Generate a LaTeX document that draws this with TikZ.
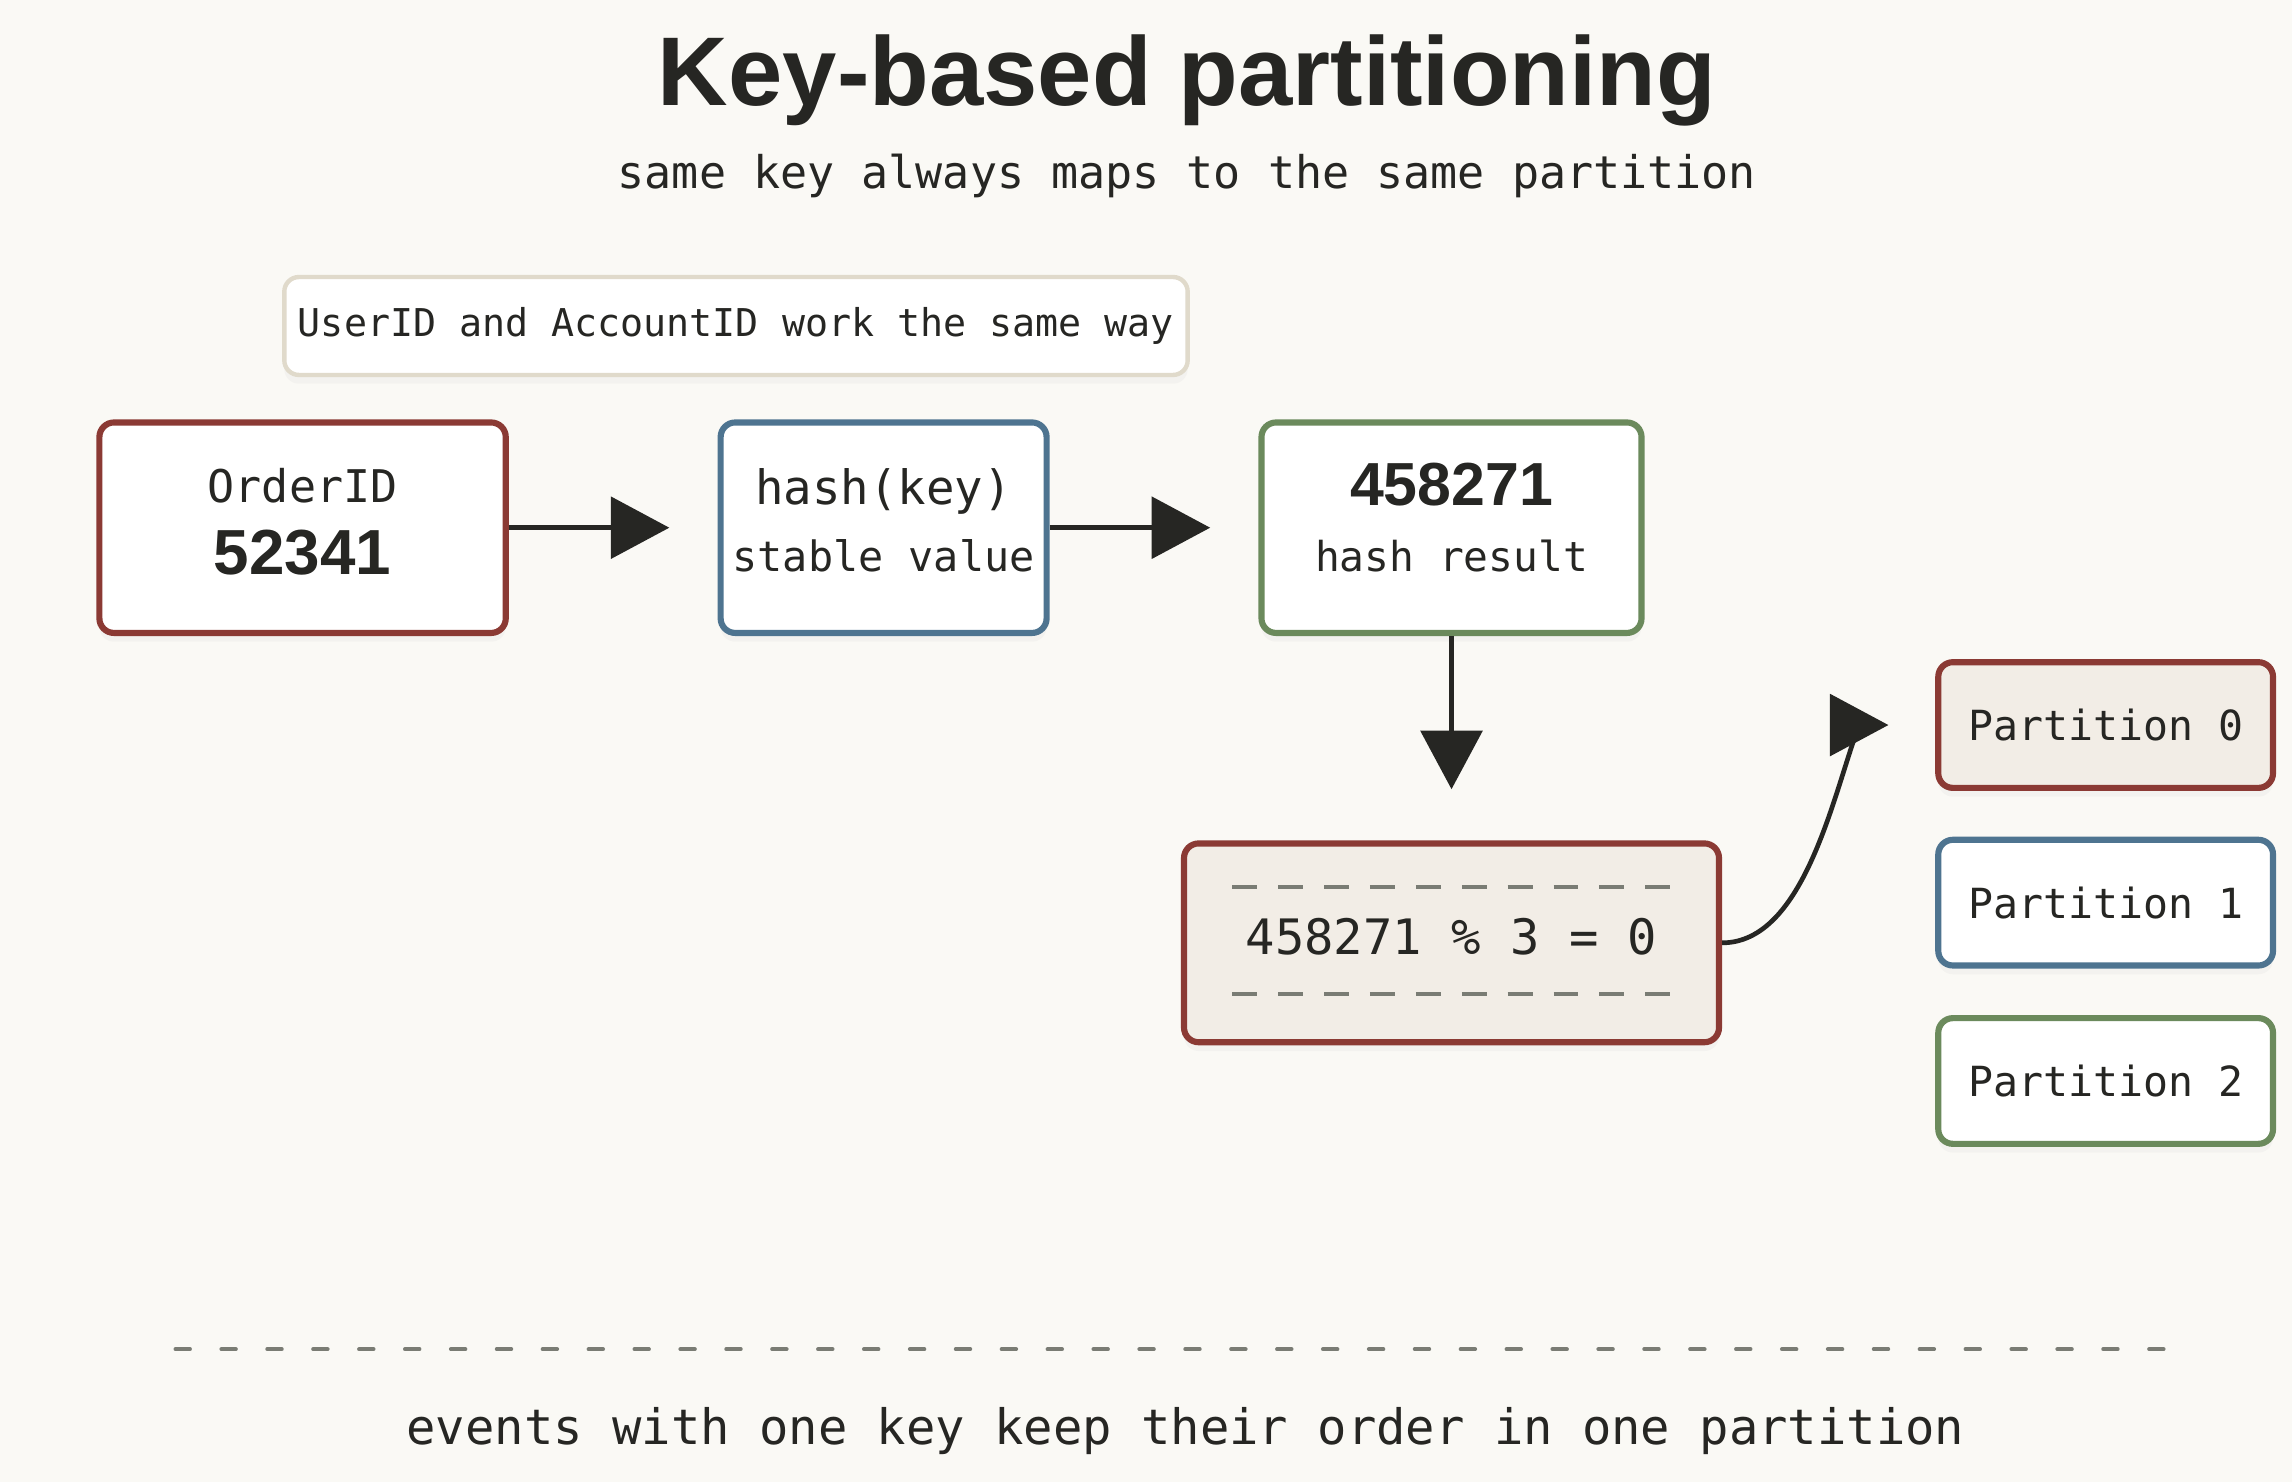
\documentclass[tikz,border=0pt]{standalone}
\usepackage{fontspec}
\setmainfont{Liberation Sans}
\newfontfamily\monofont{DejaVu Sans Mono}
\usetikzlibrary{arrows.meta,shadows}
\definecolor{paper}{HTML}{FAF9F5}
\definecolor{ink}{HTML}{262623}
\definecolor{keyred}{HTML}{8B3A34}
\definecolor{hashblue}{HTML}{4E7490}
\definecolor{resgreen}{HTML}{6B8A5C}
\definecolor{beige}{HTML}{F2EDE6}
\definecolor{noteline}{HTML}{E0DACB}
\definecolor{dashgray}{HTML}{7A7C74}
\begin{document}
\begin{tikzpicture}[x=0.5pt,y=-0.5pt,line join=round,>={Triangle[length=20pt,width=21pt]}]
	\tikzset{
		box/.style={draw,line width=2.1pt,rounded corners=5pt,fill=white,inner sep=0pt,
			drop shadow={shadow xshift=0pt,shadow yshift=-3pt,opacity=0.05}},
		txt/.style={anchor=base,inner sep=0pt,text=ink},
		arr/.style={->,line width=1.6pt,draw=ink},
		part/.style={box,minimum width=114.5pt,minimum height=43pt,font=\monofont\fontsize{14.2}{16}\selectfont,text=ink}
	}
	\fill[paper] (0,0) rectangle (1568,1014);
	\node[txt,font=\bfseries\fontsize{33.4}{40}\selectfont] (title) at (812,72) {Key-based partitioning};
	\node[txt,font=\monofont\fontsize{15.4}{18}\selectfont] (subtitle) at (812,129) {same key always maps to the same partition};
	\node[box,draw=noteline,line width=1.5pt,minimum width=309pt,minimum height=33.5pt,text=ink,
		font=\monofont\fontsize{13.1}{16}\selectfont] (note) at (503.5,223) {UserID and AccountID work the same way};
	\node[box,draw=keyred,minimum width=139pt,minimum height=72pt] (order) at (207,361) {};
	\node[txt,font=\monofont\fontsize{15.4}{18}\selectfont] (orderkey) at (207,344) {OrderID};
	\node[txt,font=\bfseries\fontsize{21.8}{26}\selectfont] (ordernum) at (207,393) {52341};
	\node[box,draw=hashblue,minimum width=111.5pt,minimum height=72pt] (hash) at (604.5,361) {};
	\node[txt,font=\monofont\fontsize{16.2}{19}\selectfont] (hashfn) at (604.5,345) {hash(key)};
	\node[txt,font=\monofont\fontsize{14.3}{17}\selectfont] (hashsub) at (604.5,391) {stable value};
	\node[box,draw=resgreen,minimum width=130pt,minimum height=72pt] (result) at (993,361) {};
	\node[txt,font=\bfseries\fontsize{20.8}{25}\selectfont] (resnum) at (993,346) {458271};
	\node[txt,font=\monofont\fontsize{14.1}{17}\selectfont] (ressub) at (993,391) {hash result};
	\node[box,draw=keyred,fill=beige,minimum width=183pt,minimum height=68pt] (mod) at (993,645) {};
	\node[txt,font=\monofont\fontsize{16.7}{20}\selectfont] (modtxt) at (993,653) {458271 \% 3 = 0};
	\draw[dashgray,line width=1.5pt,dash pattern=on 8.5pt off 7.2pt] (843,607)--(1143,607);
	\draw[dashgray,line width=1.5pt,dash pattern=on 8.5pt off 7.2pt] (843,680)--(1143,680);
	\node[part,draw=keyred,fill=beige] (p0) at (1440.5,496) {Partition 0};
	\node[part,draw=hashblue] (p1) at (1440.5,617.5) {Partition 1};
	\node[part,draw=resgreen] (p2) at (1440.5,739.5) {Partition 2};
	\draw[arr,shorten >=16.5pt] (order)--(hash);
	\draw[arr,shorten >=16.5pt] (hash)--(result);
	\draw[arr,shorten >=17.5pt] (result)--(mod);
	\draw[arr] (mod.east) .. controls +(57,0) and +(-17,44) .. ([xshift=-26pt]p0.west) -- ([xshift=-16pt]p0.west);
	\draw[dashgray,line width=1.3pt,line cap=round,dash pattern=on 5pt off 10.7pt] (120,923)--(1497,923);
	\node[txt,font=\monofont\fontsize{16.7}{20}\selectfont] (footer) at (811,988) {events with one key keep their order in one partition};
\end{tikzpicture}
\end{document}
